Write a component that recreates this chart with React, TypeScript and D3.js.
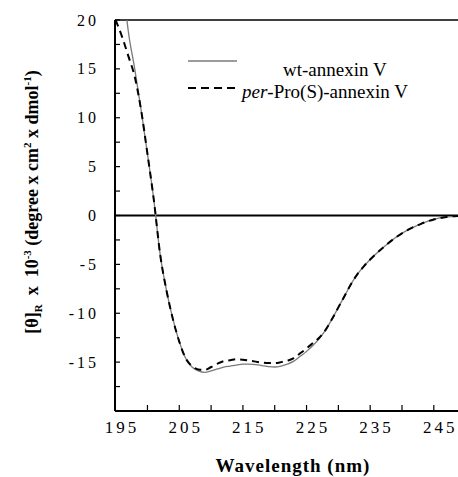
import React from "react";
import * as d3 from "d3";

const wtWavelength = [195.5, 196, 197, 198, 199, 200, 201, 202, 203, 204, 205, 206, 207, 208, 209, 210, 211, 212, 213, 214, 215, 216, 217, 218, 219, 220, 221, 222, 223, 224, 225, 226, 227, 228, 229, 230, 231, 232, 233, 234, 236, 238, 240, 242, 244, 246, 248];
const wtValues = [21.5, 18.8, 15.0, 10.8, 6.3, 1.6, -4.0, -7.7, -10.6, -12.9, -14.6, -15.5, -15.9, -16.05, -15.9, -15.7, -15.5, -15.4, -15.3, -15.2, -15.2, -15.25, -15.35, -15.45, -15.5, -15.4, -15.2, -14.9, -14.4, -13.9, -13.3, -12.6, -11.7, -10.6, -9.4, -8.2, -7.0, -6.0, -5.2, -4.5, -3.3, -2.25, -1.45, -0.85, -0.4, -0.15, -0.05];

const proWavelength = [194, 195, 196, 197, 198, 199, 200, 201, 202, 203, 204, 205, 206, 207, 208, 209, 210, 211, 212, 213, 214, 215, 216, 217, 218, 219, 220, 221, 222, 223, 224, 225, 226, 227, 228, 229, 230, 231, 232, 233, 234, 236, 238, 240, 242, 244, 246, 248];
const proValues = [20.0, 18.3, 16.3, 14.2, 10.8, 6.3, 1.6, -4.0, -7.7, -10.6, -12.9, -14.6, -15.4, -15.75, -15.8, -15.5, -15.15, -14.9, -14.8, -14.7, -14.75, -14.85, -14.95, -15.05, -15.1, -15.1, -15.0, -14.85, -14.6, -14.1, -13.6, -13.05, -12.5, -11.7, -10.6, -9.4, -8.2, -7.0, -6.0, -5.2, -4.5, -3.3, -2.25, -1.45, -0.85, -0.4, -0.15, -0.05];

const xLabelValues = [195, 205, 215, 225, 235, 245];
const xTickValues = [199, 204, 209, 214, 219, 224, 229, 234, 239, 244];
const yLabelValues = [20, 15, 10, 5, 0, -5, -10, -15];
const yTickValues = [20, 17.5, 15, 12.5, 10, 7.5, 5, 2.5, 0, -2.5, -5, -7.5, -10, -12.5, -15, -17.5];

const seriesNames = ["wt-annexin V", "per-Pro(S)-annexin V"];

export default function App() {
  const W = 458, H = 477;
  const left = 115, right = 458, top = 20, bottom = 411;
  const x = d3.scaleLinear().domain([193.9, 247.8]).range([left, right]);
  const y = d3.scaleLinear().domain([-20, 20]).range([bottom, top]);
  const line = d3.line<[number, number]>().x(d => x(d[0])).y(d => y(d[1])).curve(d3.curveMonotoneX);
  const wtPath = line(wtWavelength.map((w, i) => [w, wtValues[i]]) as [number, number][]) || "";
  const proPath = line(proWavelength.map((w, i) => [w, proValues[i]]) as [number, number][]) || "";
  const font = "Liberation Serif, Times New Roman, serif";

  return (
    <svg width={W} height={H} style={{ position: "absolute", left: 0, top: 0, background: "#fff" }}>
      <defs>
        <clipPath id="plotClip">
          <rect x={left} y={top} width={right - left} height={bottom - top} />
        </clipPath>
      </defs>
      <rect x={0} y={0} width={W} height={H} fill="#fff" />
      {/* frame */}
      <line x1={left} x2={right} y1={top} y2={top} stroke="#000" strokeWidth={1.5} />
      <line x1={left} x2={right} y1={y(0)} y2={y(0)} stroke="#000" strokeWidth={2} />
      <line x1={left} x2={left} y1={top} y2={bottom} stroke="#000" strokeWidth={2} />
      <line x1={left} x2={right} y1={bottom} y2={bottom} stroke="#000" strokeWidth={2} />
      {/* y ticks */}
      {yTickValues.map(v => (
        <line key={"yt" + v} x1={left} x2={left + 5} y1={y(v)} y2={y(v)} stroke="#000" strokeWidth={1.2} />
      ))}
      {yLabelValues.map(v => (
        <text key={"yl" + v} x={99} y={y(v)} dy="0.35em" textAnchor="end" fontFamily={font} fontSize={16} letterSpacing={3}>{v}</text>
      ))}
      {/* x ticks */}
      {xTickValues.map(v => (
        <line key={"xt" + v} x1={x(v)} x2={x(v)} y1={bottom} y2={bottom - 6} stroke="#000" strokeWidth={1.2} />
      ))}
      {xLabelValues.map(v => (
        <text key={"xl" + v} x={x(v)} y={433} textAnchor="middle" fontFamily={font} fontSize={17} letterSpacing={3}>{v}</text>
      ))}
      {/* curves */}
      <g clipPath="url(#plotClip)">
        <path d={wtPath} fill="none" stroke="#7a7a7a" strokeWidth={1.3} />
        <path d={proPath} fill="none" stroke="#000" strokeWidth={2} strokeDasharray="7,5" />
      </g>
      {/* legend */}
      <line x1={188} x2={237} y1={61} y2={61} stroke="#7a7a7a" strokeWidth={1.3} />
      <text x={283} y={76} fontFamily={font} fontSize={19}>{seriesNames[0]}</text>
      <line x1={188} x2={237} y1={88} y2={88} stroke="#000" strokeWidth={2} strokeDasharray="8,5" />
      <text x={242} y={98} fontFamily={font} fontSize={19}><tspan fontStyle="italic">per</tspan>-Pro(S)-annexin V</text>
      {/* axis titles */}
      <text x={293} y={472} textAnchor="middle" fontFamily={font} fontSize={19} fontWeight="bold" letterSpacing={1}>Wavelength (nm)</text>
      <text transform={`translate(38, 202) rotate(-90)`} textAnchor="middle" fontFamily={font} fontSize={18} fontWeight="bold" style={{ whiteSpace: "pre" }}>
        [θ]<tspan fontSize={11} dy={4}>R</tspan><tspan dy={-4}>{"  x  10"}</tspan><tspan fontSize={11} dy={-7}>-3</tspan><tspan dy={7}>{" (degree x cm"}</tspan><tspan fontSize={11} dy={-7}>2</tspan><tspan dy={7}>{" x dmol"}</tspan><tspan fontSize={11} dy={-7}>-1</tspan><tspan dy={7}>)</tspan>
      </text>
    </svg>
  );
}
